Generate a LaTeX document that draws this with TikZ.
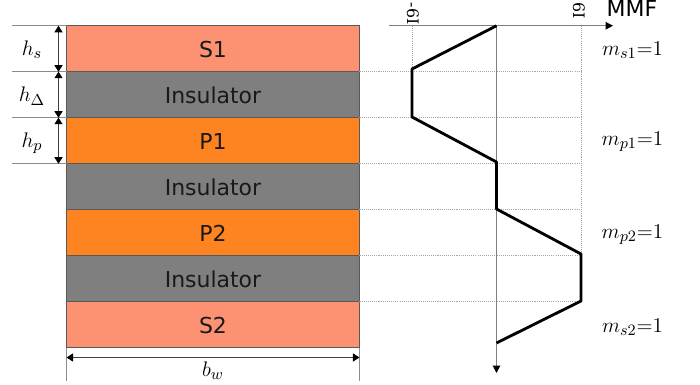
\documentclass[tikz,border=0pt]{standalone}
\usepackage{xcolor}
\usepackage{tikz}
\usepackage{fontspec}
\usepackage{amsmath, amssymb}
\setmainfont{DejaVu Sans}
\newfontfamily\tickfont{DejaVu Serif}
\usetikzlibrary{arrows.meta}
\definecolor{salmonfill}{HTML}{FC9272}
\definecolor{orangefill}{HTML}{FD8421}
\definecolor{insfill}{HTML}{7F7F7F}
\tikzset{
  layer/.style={draw=black!65, line width=0.7pt, minimum width=5.86cm, minimum height=0.92cm, inner sep=0pt, outer sep=0pt, text height=10pt, text depth=0pt, font=\fontsize{12.5}{14}\selectfont, text=black!90},
  guide/.style={draw=black!45, line width=0.6pt},
  griddot/.style={draw=black!35, line width=0.5pt, dash pattern=on 0.6pt off 0.6pt},
  dim/.style={draw=black!75, line width=0.5pt, {Triangle[black,length=3.7pt,width=4.6pt]}-{Triangle[black,length=3.7pt,width=4.6pt]}},
  axisline/.style={draw=black!50, line width=0.7pt, -{Triangle[black,length=4.2pt,width=4.2pt]}},
  mmfline/.style={draw=black, line width=1.6pt, line join=round},
  mathlabel/.style={font=\fontsize{13}{15}\selectfont, inner sep=0pt},
  ticklabel/.style={font=\tickfont\fontsize{9}{10}\selectfont, inner sep=0pt, rotate=-90}
}
\begin{document}
\begin{tikzpicture}[x=0.02cm, y=-0.02cm]
\useasboundingbox (0,0) rectangle (700,385);
% winding layers
\node [layer, fill=salmonfill] (s1) at (213,48.75) {S1};
\node [layer, fill=insfill] (ins1) at (213,94.75) {Insulator};
\node [layer, fill=orangefill] (p1) at (213,140.75) {P1};
\node [layer, fill=insfill] (ins2) at (213,186.75) {Insulator};
\node [layer, fill=orangefill] (p2) at (213,232.75) {P2};
\node [layer, fill=insfill] (ins3) at (213,278.75) {Insulator};
\node [layer, fill=salmonfill] (s2) at (213,324.75) {S2};
% free ends on the left
\coordinate (l0) at (s1.north west -| 12,0);
\coordinate (l1) at (s1.south west -| 12,0);
\coordinate (l2) at (ins1.south west -| 12,0);
\coordinate (l3) at (p1.south west -| 12,0);
\draw [guide] (l0) -- (s1.north west);
\draw [guide] (l1) -- (s1.south west);
\draw [guide] (l2) -- (ins1.south west);
\draw [guide] (l3) -- (p1.south west);
% heights
\coordinate (d0) at (s1.north west -| 58.5,0);
\coordinate (d1) at (s1.south west -| 58.5,0);
\coordinate (d2) at (ins1.south west -| 58.5,0);
\coordinate (d3) at (p1.south west -| 58.5,0);
\draw [dim] (d0) -- (d1);
\draw [dim] (d1) -- (d2);
\draw [dim] (d2) -- (d3);
\node [mathlabel] (hs) at (32,50) {$h_s$};
\node [mathlabel] (hd) at (32,96) {$h_\Delta$};
\node [mathlabel] (hp) at (32,143) {$h_p$};
% width
\coordinate (w0) at (s2.south west |- 0,381);
\coordinate (w1) at (s2.south east |- 0,381);
\coordinate (a0) at (s2.south west |- 0,357.5);
\coordinate (a1) at (s2.south east |- 0,357.5);
\draw [guide] (s2.south west) -- (w0);
\draw [guide] (s2.south east) -- (w1);
\draw [dim] (a0) -- (a1);
\node [mathlabel] (bw) at (213,371) {$b_w$};
% mmf axes
\coordinate (ax0) at (389,25.75);
\coordinate (ax1) at (613,25.75);
\coordinate (ay0) at (496.5,25.75);
\coordinate (ay1) at (496.5,373);
\coordinate (neg0) at (412,25.75);
\coordinate (pos0) at (581.5,25.75);
\coordinate (neg1) at (s1.south east -| 412,0);
\coordinate (g1) at (s1.south east -| 581.5,0);
\coordinate (g2) at (ins1.south east -| 581.5,0);
\coordinate (g3) at (p1.south east -| 581.5,0);
\coordinate (g4) at (ins2.south east -| 581.5,0);
\coordinate (g5) at (p2.south east -| 581.5,0);
\coordinate (g6) at (ins3.south east -| 581.5,0);
\draw [griddot] (neg0) -- (neg1);
\draw [griddot] (pos0) -- (g5);
\draw [griddot] (s1.south east) -- (g1);
\draw [griddot] (ins1.south east) -- (g2);
\draw [griddot] (p1.south east) -- (g3);
\draw [griddot] (ins2.south east) -- (g4);
\draw [griddot] (p2.south east) -- (g5);
\draw [griddot] (ins3.south east) -- (g6);
\draw [axisline] (ax0) -- (ax1);
\draw [axisline] (ay0) -- (ay1);
\node [ticklabel] (tneg) at (413,13.5) {-6I};
\node [ticklabel] (tpos) at (579,11) {6I};
\node [font=\fontsize{12.5}{14}\selectfont, inner sep=0pt] (mmf) at (632,8) {MMF};
% mmf curve
\coordinate (c0) at (496.5,25.75);
\coordinate (c1) at (412,69);
\coordinate (c2) at (412,117);
\coordinate (c3) at (496.5,162);
\coordinate (c4) at (496.5,209);
\coordinate (c5) at (581,254);
\coordinate (c6) at (581,301);
\coordinate (c7) at (496.5,343);
\draw [mmfline] (c0) -- (c1) -- (c2) -- (c3) -- (c4) -- (c5) -- (c6) -- (c7);
% turns
\node [mathlabel] (ms1) at (632.5,50) {$m_{s1}{=}1$};
\node [mathlabel] (mp1) at (632.5,142) {$m_{p1}{=}1$};
\node [mathlabel] (mp2) at (632.5,235) {$m_{p2}{=}1$};
\node [mathlabel] (ms2) at (632.5,327) {$m_{s2}{=}1$};
\end{tikzpicture}
\end{document}
